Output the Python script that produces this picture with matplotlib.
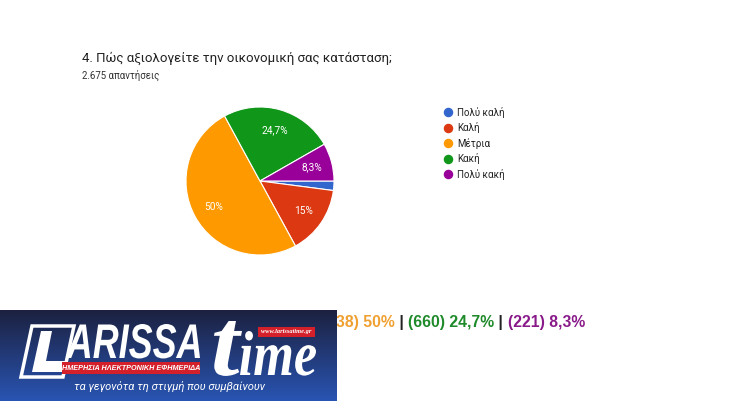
import numpy as np
import matplotlib.pyplot as plt
from matplotlib.patches import Polygon, Rectangle, PathPatch
from matplotlib.textpath import TextPath
from matplotlib.font_manager import FontProperties
from matplotlib.transforms import Affine2D

# chart data
categories = ['Πολύ καλή', 'Καλή', 'Μέτρια', 'Κακή', 'Πολύ κακή']
counts = [55, 401, 1338, 660, 221]
pct_labels = ['', '15%', '50%', '24,7%', '8,3%']
colors = ['#3366cc', '#dc3912', '#ff9900', '#109618', '#990099']
summary_parts = ['(55) 2,1%', '(401) 15%', '(1338) 50%', '(660) 24,7%', '(221) 8,3%']
summary_colors = ['#3366cc', '#dc3912', '#f0a030', '#1e8a2a', '#8a1a8a']

plt.rcParams['font.family'] = ['Roboto', 'DejaVu Sans']

W, H = 750, 401
fig = plt.figure(figsize=(7.5, 4.01), dpi=100)
fig.patch.set_facecolor('white')

# pie
cx, cy, r = 260, 181, 74
pax = fig.add_axes([(cx - r) / W, (H - cy - r) / H, 2 * r / W, 2 * r / H])
wedges, _ = pax.pie(counts, colors=colors, startangle=0, counterclock=False,
                    wedgeprops=dict(edgecolor='white', linewidth=0.8))
for w, lab in zip(wedges, pct_labels):
    if not lab:
        continue
    ang = np.deg2rad((w.theta1 + w.theta2) / 2)
    pax.text(0.72 * np.cos(ang), 0.72 * np.sin(ang), lab, color='white',
             fontsize=7.3, ha='center', va='center')
pax.set_xlim(-1, 1)
pax.set_ylim(-1, 1)
pax.axis('off')

# overlay in pixel coords
ax = fig.add_axes([0, 0, 1, 1])
ax.set_xlim(0, W)
ax.set_ylim(H, 0)
ax.axis('off')

ax.text(82, 58, '4. Πώς αξιολογείτε την οικονομική σας κατάσταση;', fontsize=9.5,
        color='#212121', va='center')
ax.text(82, 75, '2.675 απαντήσεις', fontsize=6.9, color='#333333', va='center')

# legend
for i, (c, name) in enumerate(zip(colors, categories)):
    y = 112 + i * 15.6
    ax.scatter([448], [y], s=34, color=c, zorder=3)
    ax.text(457, y, name, fontsize=7, color='#222222', va='center')

# summary line (left part sits behind the logo)
fig.canvas.draw()
rend = fig.canvas.get_renderer()
pieces = []
for i, (p, c) in enumerate(zip(summary_parts, summary_colors)):
    if i > 0:
        pieces.append((' | ', '#222222'))
    pieces.append((p, c))
x = 585
for txt, c in reversed(pieces):
    t = ax.text(x, 327, txt, fontsize=11.3, fontweight='bold', color=c,
                family='Liberation Sans', ha='right', va='baseline', zorder=1)
    bb = t.get_window_extent(renderer=rend)
    x -= bb.width


def fit_text(s, x0, x1, base, top, prop, color, z):
    tp = TextPath((0, 0), s, size=100, prop=prop)
    ext = tp.get_extents()
    sx = (x1 - x0) / ext.width
    sy = (base - top) / ext.ymax
    tr = Affine2D().translate(-ext.xmin, 0).scale(sx, -sy).translate(x0, base)
    ax.add_patch(PathPatch(tr.transform_path(tp), facecolor=color,
                           edgecolor='none', zorder=z))


# logo block
grad = np.linspace(0, 1, 100).reshape(-1, 1)
top = np.array([0.11, 0.13, 0.25])
bot = np.array([0.16, 0.33, 0.70])
img = top + grad[..., None] * (bot - top)
img = np.repeat(img, 2, axis=1)
ax.imshow(img, extent=[0, 337, 401, 310], aspect='auto', zorder=5)
ax.set_xlim(0, W)
ax.set_ylim(H, 0)

sans_bi = FontProperties(family='Liberation Sans', weight='bold', style='italic')
serif_bi = FontProperties(family='Liberation Serif', weight='bold', style='italic')

# L box
ax.add_patch(Polygon([[32, 326], [74, 326], [63, 377], [21, 377]], closed=True,
                     fill=False, edgecolor='white', linewidth=2.5, zorder=6))
ax.add_patch(Polygon([[41, 331], [52, 331], [46, 361], [66, 361], [63, 372], [32, 372]],
                     closed=True, facecolor='white', edgecolor='none', zorder=6))
fit_text('ARISSA', 66, 200, 358, 324, sans_bi, 'white', 6)
# red band
ax.add_patch(Rectangle((62, 362), 138, 12, facecolor='#d4202a', edgecolor='none', zorder=6))
ax.text(131, 368.5, 'ΗΜΕΡΗΣΙΑ ΗΛΕΚΤΡΟΝΙΚΗ ΕΦΗΜΕΡΙΔΑ', fontsize=5.2, fontweight='bold',
        style='italic', color='white', ha='center', va='center', zorder=7,
        family=['Liberation Sans Narrow', 'Liberation Sans'])
# "time"
fit_text('t', 214, 242, 375, 321, serif_bi, 'white', 7)
fit_text('ime', 240, 316, 375, 331, serif_bi, 'white', 7)
ax.add_patch(Rectangle((258, 327), 57, 10, facecolor='#d4202a', edgecolor='none', zorder=6))
ax.text(286.5, 332, 'www.larissatime.gr', fontsize=4.6, fontweight='bold', style='italic',
        color='white', ha='center', va='center', zorder=8, family='Liberation Serif')
ax.text(169, 386, 'τα γεγονότα τη στιγμή που συμβαίνουν', fontsize=8, style='italic',
        color='white', ha='center', va='center', zorder=6)

fig.savefig('out.png', dpi=100)
